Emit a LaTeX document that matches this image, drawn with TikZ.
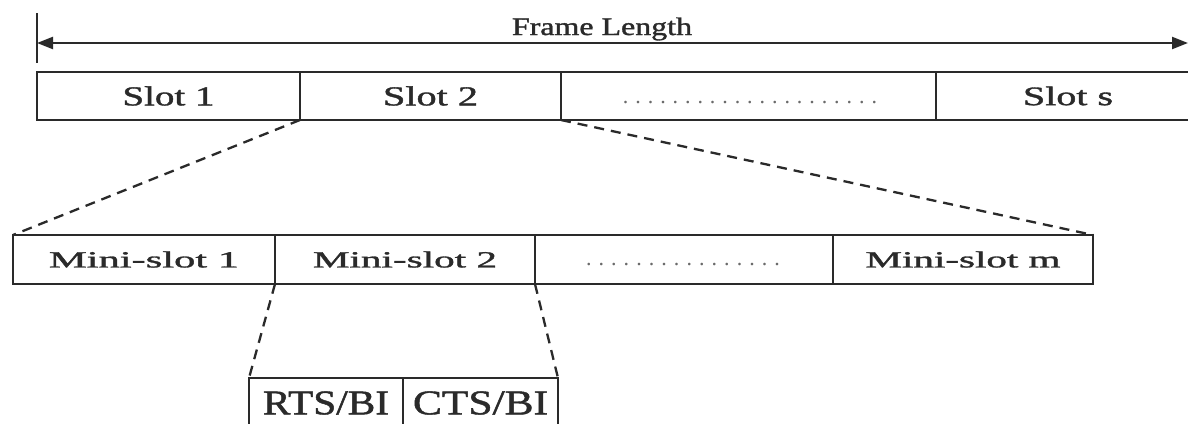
\documentclass[tikz,border=0pt]{standalone}
\usepackage{fontspec}
\setmainfont{Liberation Serif}
\newfontfamily\labfont{Liberation Serif}[FakeBold=1.2]
\usepackage{graphicx}
\usetikzlibrary{arrows.meta}
\newcommand\fitt[3]{\resizebox{#1pt}{#2pt}{\labfont #3}}
\newcommand\dotrow[2]{\fontsize{22}{22}\selectfont\hbox to #1pt{\xleaders\hbox to #2pt{\hss.\hss}\hfill}}
\definecolor{ink}{HTML}{2A2A2A}
\definecolor{dotc}{HTML}{6A6A6A}
\begin{document}
\begin{tikzpicture}[x=1pt,y=-1pt,
  cell/.style={draw=ink, line width=2.3pt, rectangle, anchor=north west,
    inner sep=0pt, outer sep=0pt, text=ink, minimum height=48pt},
  link/.style={draw=ink, line width=2.3pt, dash pattern=on 10pt off 7pt},
  dim/.style={draw=ink, line width=2.1pt},
  lbl/.style={text=ink, inner sep=0pt},
  tipA/.style={{Triangle[length=16pt,width=12pt]}-{Triangle[length=16pt,width=12pt]}}]
\useasboundingbox (0,0) rectangle (1188,423);
\clip (0,0) rectangle (1188,423);
\fill[white] (0,0) rectangle (1188,423);

% frame length dimension
\coordinate (tt) at (37,13);
\coordinate (tb) at (37,63);
\coordinate (fl) at (37,43);
\coordinate (fr) at (1188,43);
\draw[dim] (tt) -- (tb);
\draw[dim, tipA] (fl) -- (fr);
\node[lbl, anchor=base] (flt) at (602,35) {\fitt{180}{17.5}{Frame Length}};

% slots
\node[cell, minimum width=263pt] (s1) at (37,72) {\fitt{92}{19}{Slot 1}};
\node[cell, minimum width=261pt] (s2) at (300,72) {\fitt{95}{19}{Slot 2}};
\node[cell, minimum width=375pt] (sd) at (561,72) {};
\node[cell, minimum width=264pt] (ss) at (936,72) {\fitt{90}{18.5}{Slot s}};
\node[lbl, text=dotc] (sdt) at (750,103) {\dotrow{261}{12.4}};

% mini-slots
\node[cell, minimum width=262pt, minimum height=49pt] (m1) at (13,235) {\raisebox{-3pt}{\fitt{190}{16}{Mini-slot 1}}};
\node[cell, minimum width=260pt, minimum height=49pt] (m2) at (275,235) {\fitt{184}{16}{Mini-slot 2}};
\node[cell, minimum width=298pt, minimum height=49pt] (md) at (535,235) {};
\node[cell, minimum width=260pt, minimum height=49pt] (mm) at (833,235) {\fitt{195}{16}{Mini-slot m}};
\node[lbl, text=dotc] (mdt) at (683,265) {\dotrow{201}{12.5}};

% RTS / CTS
\node[cell, minimum width=154pt, minimum height=50pt] (rts) at (249,378) {\fitt{126}{23}{RTS/BI}};
\node[cell, minimum width=155pt, minimum height=50pt] (cts) at (403,378) {\fitt{135}{23}{CTS/BI}};

% zoom connectors
\draw[link] (s1.south east) -- (m1.north west);
\draw[link] (s2.south east) -- (mm.north east);
\draw[link] (m1.south east) -- (rts.north west);
\draw[link] (m2.south east) -- (cts.north east);
\end{tikzpicture}
\end{document}
